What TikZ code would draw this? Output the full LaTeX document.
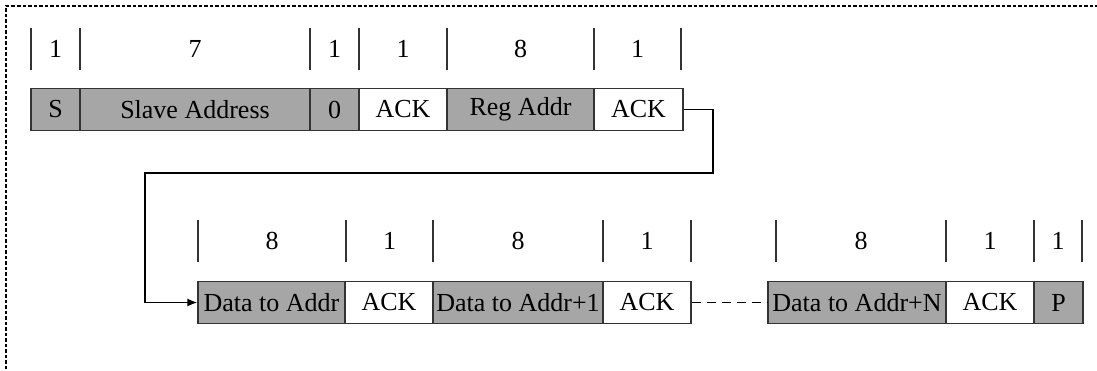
\documentclass[tikz,border=0pt]{standalone}
\usepackage{fontspec}
\setmainfont{Liberation Serif}
\usetikzlibrary{arrows.meta}
\definecolor{fieldgray}{HTML}{A6A6A6}
\definecolor{edgegray}{HTML}{333333}
\begin{document}
\begin{tikzpicture}[x=1pt,y=-1pt,
  font=\fontsize{26}{30}\selectfont,
  field/.style={draw=edgegray,line width=1.2pt,inner sep=0pt,minimum height=42pt,anchor=center},
  gfield/.style={field,fill=fieldgray},
  wfield/.style={field,fill=white},
  tick/.style={draw=edgegray,line width=1.2pt},
  num/.style={inner sep=0pt},
  link/.style={draw=black,line width=1.6pt,-{Latex[length=10pt,width=8pt]}},
  gap/.style={draw=black,line width=1.1pt,dash pattern=on 9pt off 6pt},
  frame/.style={draw=black,line width=1.8pt,dash pattern=on 3.5pt off 2pt}]
\useasboundingbox (0,0) rectangle (1097,370);
% frame (right and bottom edges lie outside the picture)
\draw[frame] (6,380) -- (6,6) -- (1110,6);
% ---- row 1 ----
\node[gfield,minimum width=49pt]  (s)    at (55.5,109.5) {S};
\node[gfield,minimum width=230pt] (sa)   at (195,109.5) {Slave Address};
\node[gfield,minimum width=49pt]  (rw)   at (334.5,109.5) {0};
\node[wfield,minimum width=88pt]  (ack1) at (403,109.5) {ACK};
\node[gfield,minimum width=147pt] (reg)  at (520.5,109.5) {Reg Addr};
\node[wfield,minimum width=89pt]  (ack2) at (638.5,109.5) {ACK};
\foreach \x in {31,80,310,359,447,594,681} \draw[tick] (\x,28) -- (\x,70);
\node[num] (n1) at (55.5,49) {1};
\node[num] (n2) at (195,49) {7};
\node[num] (n3) at (334.5,49) {1};
\node[num] (n4) at (403,49) {1};
\node[num] (n5) at (520.5,49) {8};
\node[num] (n6) at (637.5,49) {1};
% ---- row 2 ----
\node[gfield,minimum width=147pt] (d0)   at (271.5,302.5) {Data to Addr};
\node[wfield,minimum width=88pt]  (ack3) at (389,302.5) {ACK};
\node[gfield,minimum width=170pt] (d1)   at (518,302.5) {Data to Addr+1};
\node[wfield,minimum width=88pt]  (ack4) at (647,302.5) {ACK};
\node[gfield,minimum width=178pt] (dn)   at (857,302.5) {Data to Addr+N};
\node[wfield,minimum width=88pt]  (ack5) at (990,302.5) {ACK};
\node[gfield,minimum width=49pt]  (p)    at (1058.5,302.5) {P};
\foreach \x in {198,346,433,603,691,776,946,1034,1082} \draw[tick] (\x,220) -- (\x,262);
\node[num] (m1) at (272,241) {8};
\node[num] (m2) at (389.5,241) {1};
\node[num] (m3) at (518,241) {8};
\node[num] (m4) at (647,241) {1};
\node[num] (m5) at (861,241) {8};
\node[num] (m6) at (990,241) {1};
\node[num] (m7) at (1058,241) {1};
% ---- connectors ----
\coordinate (c1) at (713,173);
\coordinate (c2) at (145,173);
\draw[link] (ack2.east) -| (c1) -- (c2) |- (d0.west);
\draw[gap] (ack4.east) -- (dn.west);
\end{tikzpicture}
\end{document}
